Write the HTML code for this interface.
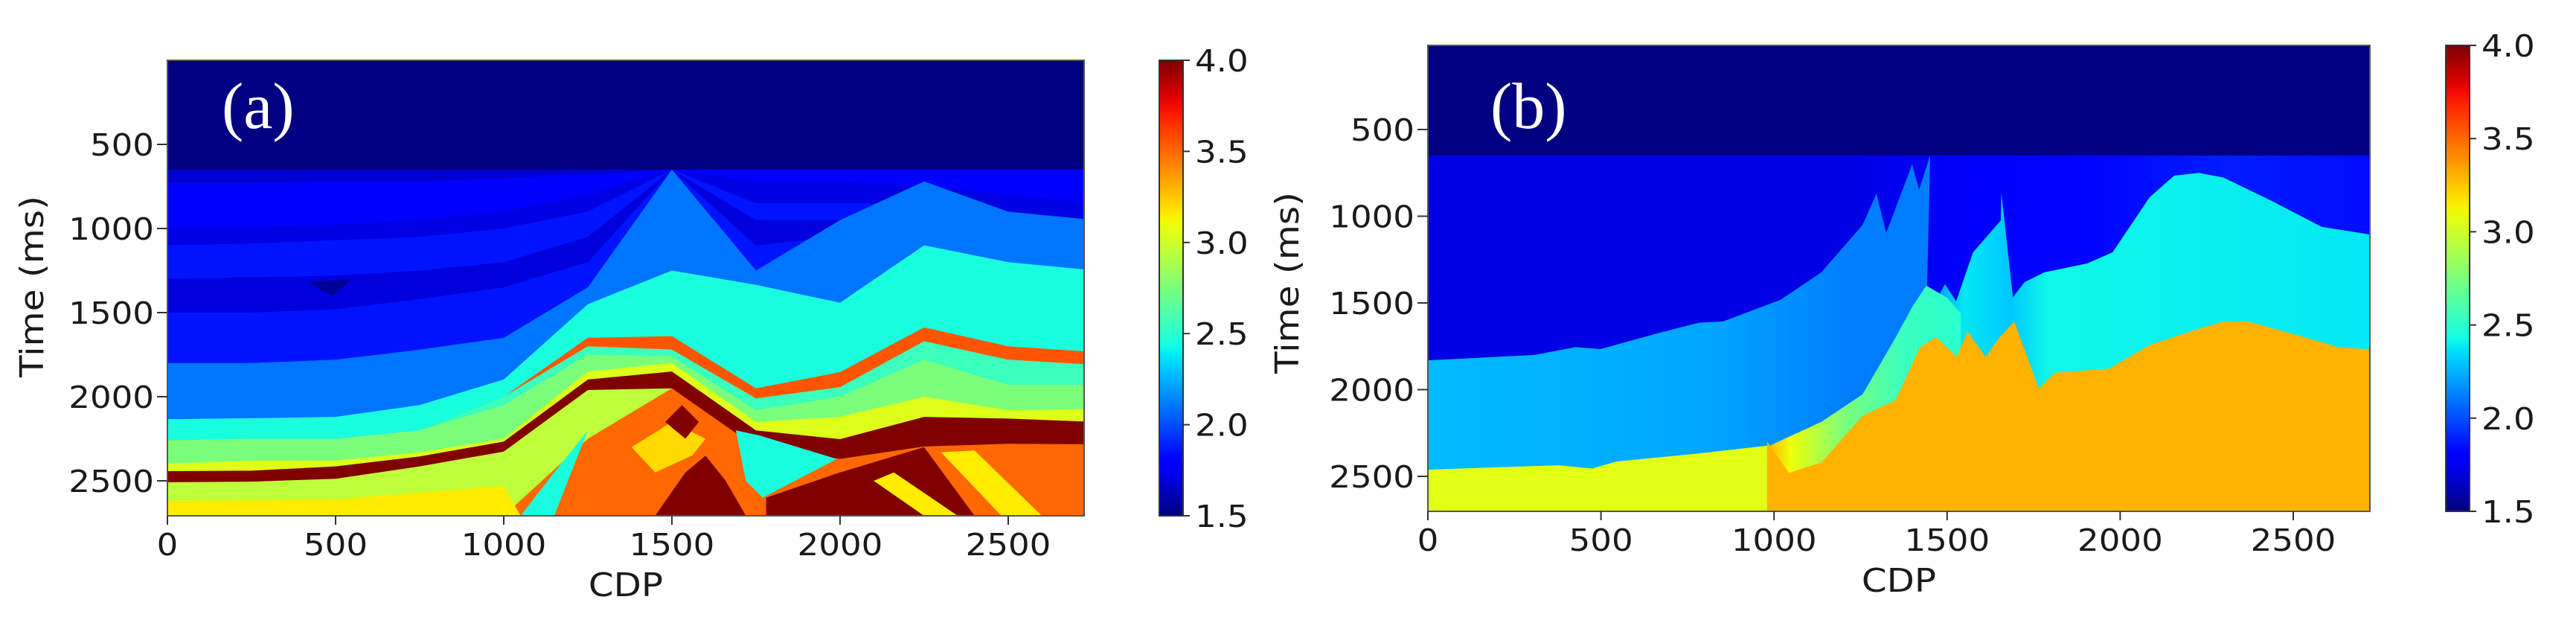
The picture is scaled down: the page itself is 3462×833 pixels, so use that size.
<!DOCTYPE html>
<html><head><meta charset="utf-8"><style>
html,body{margin:0;padding:0;background:#fff;}
svg{display:block;}
text{font-family:"DejaVu Sans","Liberation Sans",sans-serif;fill:#1a1a1a;}
</style></head><body>
<svg id="fig" width="3462" height="833" viewBox="0 0 3462 833" xmlns="http://www.w3.org/2000/svg">
<defs id="defs"></defs>
<g id="panelA"></g>
<g id="panelB"></g>
</svg>
<script>
// ---------- data ----------
const xTicks = [0, 500, 1000, 1500, 2000, 2500];
const yTicks = [500, 1000, 1500, 2000, 2500];
const cbTicks = [1.5, 2.0, 2.5, 3.0, 3.5, 4.0];
const cbTickLabels = ["1.5", "2.0", "2.5", "3.0", "3.5", "4.0"];
const waterDepth = 650;
const waterValue = 1.5;

// Panel (a): layered model, horizons at shared CDP nodes
const nodesA = [0, 250, 500, 750, 1000, 1250, 1500, 1750, 2000, 2250, 2500, 2725];
const layerValuesA = [1.68, 1.8, 1.72, 1.86, 1.7, 1.86, 2.1, 2.45, 3.55, 2.55, 2.75, 3.05, 4.0, 2.95, 3.5];
const horizonsA = [
  [650, 650, 650, 650, 650, 650, 650, 650, 650, 650, 650, 650],
  [730, 730, 720, 720, 700, 680, 650, 650, 650, 650, 650, 650],
  [1000, 990, 980, 950, 900, 800, 650, 720, 720, 750, 800, 850],
  [1100, 1090, 1070, 1050, 1000, 900, 650, 850, 850, 850, 900, 950],
  [1300, 1290, 1280, 1250, 1200, 1050, 650, 950, 950, 950, 1000, 1000],
  [1500, 1500, 1480, 1420, 1350, 1200, 650, 1100, 1050, 1000, 1100, 1100],
  [1800, 1800, 1780, 1720, 1650, 1350, 650, 1250, 950, 720, 900, 950],
  [2134, 2128, 2120, 2050, 1898, 1450, 1250, 1335, 1441, 1100, 1200, 1250],
  [2260, 2250, 2250, 2200, 2000, 1650, 1640, 1950, 1854, 1588, 1700, 1735],
  [2260, 2250, 2250, 2200, 2000, 1700, 1720, 2010, 1943, 1670, 1780, 1810],
  [2260, 2250, 2250, 2200, 2050, 1750, 1760, 2080, 2000, 1780, 1929, 1929],
  [2400, 2380, 2380, 2330, 2250, 1850, 1800, 2150, 2120, 2000, 2080, 2074],
  [2443, 2440, 2414, 2355, 2267, 1898, 1850, 2200, 2252, 2120, 2130, 2150],
  [2509, 2505, 2488, 2414, 2326, 1960, 1950, 2708, 2708, 2708, 2708, 2708],
  [2708, 2708, 2708, 2708, 2708, 2250, 1950, 2300, 2370, 2296, 2280, 2283]
];
// extra bodies in (a)
const bodyValuesA = [1.55, 2.45, 2.45, 4.0, 4.0, 3.15, 3.15, 3.15, 3.2, 4.0];
const bodyCdpA = [
  [420, 550, 490],
  [1690, 1760, 1990, 1770, 1720],
  [1050, 1150, 1250, 1150],
  [1450, 1540, 1600, 1660, 1720],
  [1780, 1780, 2000, 2250, 2400, 2150],
  [2300, 2400, 2600, 2480],
  [2100, 2160, 2350, 2250],
  [0, 500, 1000, 1050, 0],
  [1380, 1500, 1600, 1560, 1450],
  [1480, 1530, 1580, 1540]
];
const bodyTimeA = [
  [1320, 1300, 1400],
  [2200, 2230, 2370, 2600, 2500],
  [2708, 2450, 2200, 2708],
  [2708, 2450, 2350, 2500, 2708],
  [2708, 2600, 2450, 2300, 2708, 2708],
  [2330, 2320, 2708, 2708],
  [2500, 2450, 2708, 2708],
  [2620, 2610, 2530, 2708, 2708],
  [2300, 2150, 2250, 2350, 2450],
  [2150, 2050, 2150, 2250]
];

// Panel (b): smooth model
const b1Cdp = [0, 308, 427, 498, 664, 782, 853, 1019, 1137, 1256, 1296, 1324, 1399, 1419, 1451, 1440, 1494, 1526, 1575, 1655, 1657, 1690, 1724, 1780, 1905, 1978, 2085, 2156, 2227, 2298, 2440, 2582, 2717];
const b1Time = [1834, 1800, 1755, 1766, 1675, 1614, 1607, 1482, 1323, 1050, 869, 1097, 701, 847, 650, 1585, 1392, 1491, 1208, 1024, 869, 1466, 1380, 1324, 1272, 1208, 891, 766, 750, 777, 914, 1061, 1118];
const wedgeCdp = [980, 1137, 1256, 1351, 1400, 1440, 1500, 1540, 1540, 980];
const wedgeTime = [2330, 2186, 2027, 1700, 1520, 1400, 1470, 1560, 2701, 2701];
const b2Cdp = [0, 190, 379, 474, 545, 782, 980];
const b2Time = [2464, 2448, 2436, 2455, 2414, 2368, 2323];
const b3Cdp = [980, 1043, 1137, 1256, 1351, 1422, 1469, 1528, 1559, 1611, 1647, 1694, 1765, 1812, 1967, 2085, 2204, 2298, 2369, 2511, 2630, 2717];
const b3Time = [2300, 2480, 2420, 2150, 2061, 1755, 1698, 1811, 1664, 1811, 1709, 1607, 1993, 1902, 1880, 1743, 1664, 1607, 1607, 1686, 1755, 1773];
const b2Value = 3.06;
const b3Value = 3.3;

// ---------- helpers ----------
const NS = "http://www.w3.org/2000/svg";
function interp(pts, x) {
  for (let i = 1; i < pts.length; i++) {
    if (x <= pts[i][0]) { const a = pts[i-1], b = pts[i]; return a[1] + (b[1]-a[1]) * (x-a[0]) / (b[0]-a[0]); }
  }
  return pts[pts.length-1][1];
}
function jet(v) {
  let x = Math.max(0, Math.min(1, (v - 1.5) / 2.5));
  const r = interp([[0,0],[0.35,0],[0.66,1],[0.89,1],[1,0.5]], x);
  const g = interp([[0,0],[0.125,0],[0.375,1],[0.64,1],[0.91,0],[1,0]], x);
  const b = interp([[0,0.5],[0.11,1],[0.34,1],[0.65,0],[1,0]], x);
  return `rgb(${Math.round(r*255)},${Math.round(g*255)},${Math.round(b*255)})`;
}
function mk(tag, attrs, parent) {
  const e = document.createElementNS(NS, tag);
  for (const k in attrs) e.setAttribute(k, attrs[k]);
  parent.appendChild(e);
  return e;
}
const defs = document.getElementById('defs');

function makeGradient(id, stops, x1, x2) {
  const g = mk('linearGradient', {id: id, gradientUnits: 'userSpaceOnUse', x1: x1, y1: 0, x2: x2, y2: 0}, defs);
  stops.forEach(s => mk('stop', {offset: s[0], 'stop-color': jet(s[1])}, g));
}

// ---------- generic panel ----------
function buildPanel(P) {
  const root = P.root;
  const xs = c => P.left + (c / 2500) * P.w2500;
  const ys = t => P.y500 + (t - 500) * P.h2000 / 2000;
  P.xs = xs; P.ys = ys;
  const clipId = P.id + '-clip';
  const cp = mk('clipPath', {id: clipId}, defs);
  mk('rect', {x: P.left, y: P.top, width: P.right - P.left, height: P.bottom - P.top}, cp);
  const img = mk('g', {'clip-path': `url(#${clipId})`}, root);
  
  
  P.img = img;
  const wr = mk('rect', {x: P.left, y: P.top, width: P.right - P.left, height: P.bottom - P.top, fill: jet(waterValue)}, img);
  
  
  P.drawContent(P);
  const fr = mk('rect', {x: P.left, y: P.top, width: P.right - P.left, height: P.bottom - P.top, fill: 'none', stroke: '#555', 'stroke-width': 2}, root);
  
  
  xTicks.forEach(v => {
    const x = xs(v);
    const tk = mk('line', {x1: x, y1: P.bottom, x2: x, y2: P.bottom + 12, stroke: '#333', 'stroke-width': 2}, root);
    
    
    const tx = mk('text', {transform: `translate(${x},${P.bottom + 53}) scale(1.1,1)`, 'text-anchor': 'middle', 'font-size': 41}, root);
    tx.textContent = String(v);
    
    
  });
  yTicks.forEach(v => {
    const y = ys(v);
    const tk = mk('line', {x1: P.left - 14, y1: y, x2: P.left, y2: y, stroke: '#333', 'stroke-width': 2}, root);
    
    
    const tx = mk('text', {transform: `translate(${P.left - 18},${y + 15}) scale(1.1,1)`, 'text-anchor': 'end', 'font-size': 41}, root);
    tx.textContent = String(v);
    
    
  });
  const xl = mk('text', {transform: `translate(${(P.left + P.right) / 2},${P.bottom + 108}) scale(1.1,1)`, 'text-anchor': 'middle', 'font-size': 44}, root);
  xl.textContent = 'CDP';
  
  
  const yl = mk('text', {transform: `translate(${P.ylabX},${P.ylabY}) rotate(-90) scale(1.1,1)`, 'text-anchor': 'middle', 'font-size': 44}, root);
  yl.textContent = 'Time (ms)';
  
  
  const pl = mk('text', {x: P.labX, y: P.labY, 'font-size': 88, style: 'font-family:"Liberation Serif",serif;fill:#fff'}, root);
  pl.textContent = P.label;
  
  
  const gid = P.id + '-cb';
  const g = mk('linearGradient', {id: gid, x1: 0, y1: 1, x2: 0, y2: 0}, defs);
  for (let i = 0; i <= 40; i++) mk('stop', {offset: i / 40, 'stop-color': jet(1.5 + 2.5 * i / 40)}, g);
  const cb = mk('rect', {x: P.cbL, y: P.top, width: P.cbW, height: P.bottom - P.top, fill: `url(#${gid})`, stroke: '#333', 'stroke-width': 2}, root);
  
  
  cbTicks.forEach((v, i) => {
    const y = P.bottom - (v - 1.5) / 2.5 * (P.bottom - P.top);
    const tk = mk('line', {x1: P.cbL + P.cbW, y1: y, x2: P.cbL + P.cbW + 9, y2: y, stroke: '#333', 'stroke-width': 2}, root);
    
    
    const tx = mk('text', {transform: `translate(${P.cbL + P.cbW + 16},${y + 15}) scale(1.1,1)`, 'font-size': 41}, root);
    tx.textContent = cbTickLabels[i];
    
    
  });
}

function poly(P, cdps, times, fill, name) {
  const pts = cdps.map((c, i) => `${P.xs(c).toFixed(1)},${P.ys(Math.max(times[i], waterDepth)).toFixed(1)}`).join(' ');
  const p = mk('polygon', {points: pts, fill: fill}, P.img);
  
  
  return p;
}
function layerDown(P, cdps, times, fill, name, tBottom) {
  const c = cdps.slice(), t = times.slice();
  c.push(cdps[cdps.length - 1], cdps[0]);
  t.push(tBottom, tBottom);
  return poly(P, c, t, fill, name);
}

// ---------- panel A ----------
const PA = {
  id: 'pa', root: document.getElementById('panelA'),
  left: 225, right: 1457, top: 81, bottom: 693, w2500: 1130, y500: 194, h2000: 452,
  ylabX: 58, ylabY: 385, labX: 298, labY: 172, label: '(a)',
  cbL: 1558, cbW: 32,
  drawContent: function (P) {
    const ext = nodesA.slice(); ext[ext.length - 1] = 2760; ext[0] = -30;
    horizonsA.forEach((h, i) => layerDown(P, ext, h, jet(layerValuesA[i]), 'layer-' + i, 2760));
    bodyCdpA.forEach((c, i) => poly(P, c, bodyTimeA[i], jet(bodyValuesA[i]), 'body-' + i));
  }
};
buildPanel(PA);

// ---------- panel B ----------
const PB = {
  id: 'pb', root: document.getElementById('panelB'),
  left: 1919, right: 3185, top: 61, bottom: 687, w2500: 1163, y500: 174, h2000: 466,
  ylabX: 1745, ylabY: 380, labX: 2003, labY: 172, label: '(b)',
  cbL: 3287, cbW: 32,
  drawContent: function (P) {
    const xs = P.xs;
    makeGradient('pb-l1', [[0, 1.72], [0.45, 1.72], [0.55, 1.76], [0.7, 1.82], [0.85, 1.88], [1, 1.84]], xs(0), xs(2717));
    makeGradient('pb-l2', [[0, 2.27], [0.3, 2.22], [0.45, 2.12], [0.53, 2.12], [0.57, 2.38], [0.62, 2.3], [0.66, 2.42], [1, 2.38]], xs(0), xs(2717));
    makeGradient('pb-wedge', [[0, 3.3], [0.12, 3.1], [0.4, 2.75], [0.7, 2.55], [1, 2.5]], xs(980), xs(1540));
    layerDown(P, [-30, 2760], [waterDepth, waterDepth], 'url(#pb-l1)', 'layer-1', 2760);
    const c1 = b1Cdp.slice(); c1[0] = -30; c1[c1.length - 1] = 2760;
    layerDown(P, c1, b1Time, 'url(#pb-l2)', 'layer-2', 2760);
    poly(P, wedgeCdp, wedgeTime, 'url(#pb-wedge)', 'transition-wedge');
    const c2 = b2Cdp.slice(); c2[0] = -30;
    layerDown(P, c2, b2Time, jet(b2Value), 'layer-3-left', 2760);
    const c3 = b3Cdp.slice(); c3[c3.length - 1] = 2760;
    layerDown(P, c3, b3Time, jet(b3Value), 'layer-3-right', 2760);
  }
};
buildPanel(PB);
</script>
</body></html>
